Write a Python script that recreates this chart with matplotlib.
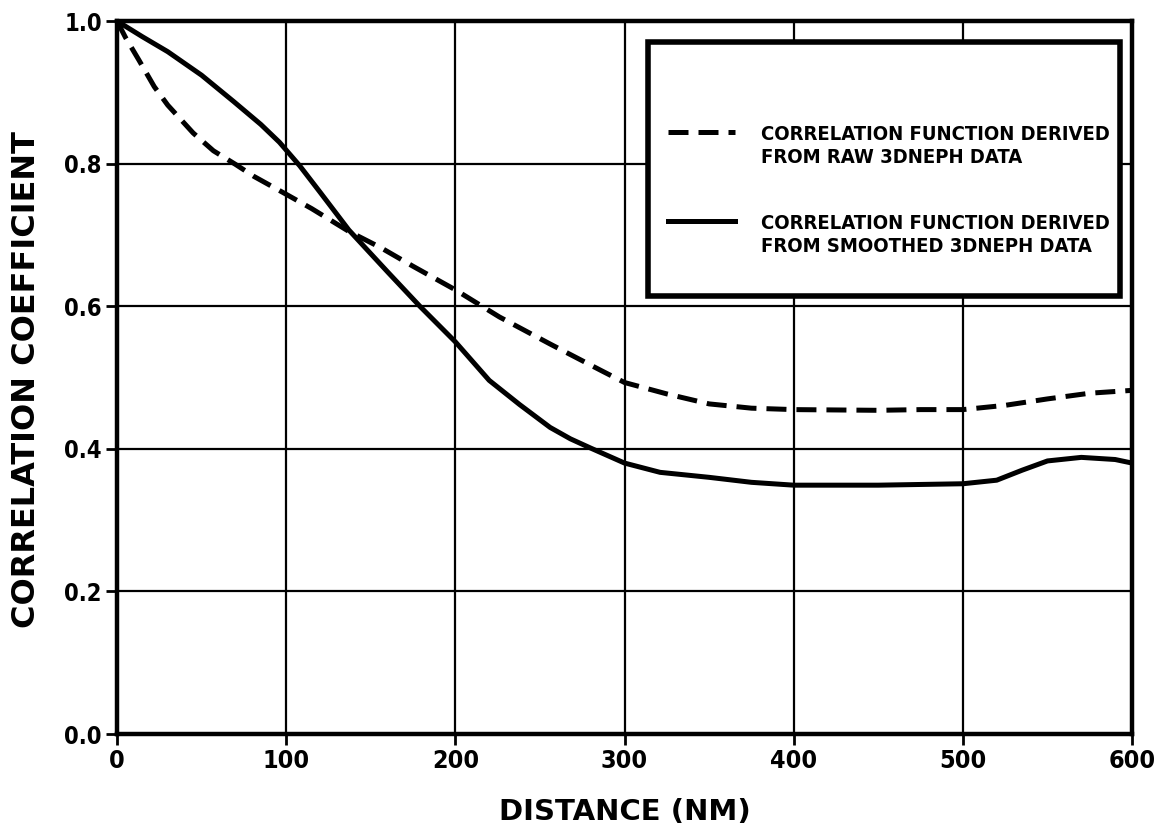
import matplotlib
matplotlib.use("Agg")
import matplotlib.pyplot as plt
from matplotlib import font_manager
from matplotlib.patches import Rectangle

# correlation vs. distance
dist_raw = [0, 5, 13, 22, 30, 45, 57, 70, 81, 100, 115, 137, 156, 175, 200,
            226, 256, 286, 300, 325, 350, 375, 400, 450, 475, 500, 525, 550,
            575, 600]
corr_raw = [1.0, 0.977, 0.945, 0.908, 0.882, 0.843, 0.818, 0.799, 0.782,
            0.757, 0.737, 0.705, 0.682, 0.656, 0.623, 0.585, 0.547, 0.51,
            0.493, 0.477, 0.463, 0.457, 0.455, 0.454, 0.455, 0.455, 0.461,
            0.47, 0.478, 0.482]

dist_smooth = [0, 15, 30, 50, 69, 85, 96, 108, 120, 137, 160, 179, 200, 220,
               238, 256, 268, 280, 300, 321, 350, 375, 400, 450, 500, 520,
               535, 550, 570, 590, 600]
corr_smooth = [1.0, 0.978, 0.957, 0.924, 0.887, 0.855, 0.83, 0.797, 0.76,
               0.707, 0.648, 0.6, 0.55, 0.496, 0.462, 0.43, 0.414, 0.401,
               0.38, 0.367, 0.36, 0.353, 0.349, 0.349, 0.351, 0.356, 0.37,
               0.383, 0.388, 0.385, 0.38]

x_ticks = [0, 100, 200, 300, 400, 500, 600]
y_ticks = [0.0, 0.2, 0.4, 0.6, 0.8, 1.0]
y_tick_labels = ["0.0", "0.2", "0.4", "0.6", "0.8", "1.0"]

legend_lines = [
    ("CORRELATION FUNCTION DERIVED\nFROM RAW 3DNEPH DATA", (0, (4, 2))),
    ("CORRELATION FUNCTION DERIVED\nFROM SMOOTHED 3DNEPH DATA", "-"),
]

# narrow lettering for ticks and key; use a condensed face when there is one
narrow = font_manager.FontProperties(family="DejaVu Sans", weight="bold",
                                     stretch="condensed")
if "Condensed" not in font_manager.findfont(narrow):
    narrow = font_manager.FontProperties(family="Liberation Sans",
                                         weight="bold")

fig = plt.figure(figsize=(11.54, 8.25), dpi=100)
ax = fig.add_axes([0.1014, 0.1103, 0.8796, 0.8642])

ax.set_xlim(0, 600)
ax.set_ylim(0, 1.0)
ax.set_xticks(x_ticks)
ax.set_yticks(y_ticks)
ax.set_xticklabels([str(v) for v in x_ticks], fontproperties=narrow,
                   fontsize=18)
ax.set_yticklabels(y_tick_labels, fontproperties=narrow, fontsize=17)
ax.tick_params(direction="out", length=8, width=2, pad=3, color="black")

ax.grid(True, color="black", linewidth=1.6)
ax.set_axisbelow(True)
for side in ["left", "right", "top", "bottom"]:
    ax.spines[side].set_linewidth(3.2)

ax.plot(dist_raw, corr_raw, color="black", linewidth=3.6,
        linestyle=(0, (4, 2)), zorder=3)
ax.plot(dist_smooth, corr_smooth, color="black", linewidth=3.6,
        linestyle="-", zorder=3)

# boxed key in the upper right
box = Rectangle((0.523, 0.615), 0.465, 0.356, transform=ax.transAxes,
                facecolor="white", edgecolor="black", linewidth=4,
                zorder=5)
ax.add_patch(box)
key_y = [0.825, 0.70]
for (label, style), yk in zip(legend_lines, key_y):
    ax.plot([0.543, 0.609], [yk + 0.019, yk + 0.019], transform=ax.transAxes,
            color="black", linewidth=3.6, linestyle=style, zorder=6)
    ax.text(0.634, yk, label, transform=ax.transAxes, fontproperties=narrow,
            fontsize=14.5, linespacing=1.25, va="center", ha="left", zorder=6)

fig.text(625 / 1154, 1 - 812 / 825, "DISTANCE (NM)", fontsize=21,
         fontweight="bold", family="DejaVu Sans", ha="center", va="center")
fig.text(27 / 1154, 1 - 380 / 825, "CORRELATION COEFFICIENT", fontsize=23,
         fontweight="bold", family="DejaVu Sans", rotation=90,
         ha="center", va="center")

fig.savefig("out.png", dpi=100)
